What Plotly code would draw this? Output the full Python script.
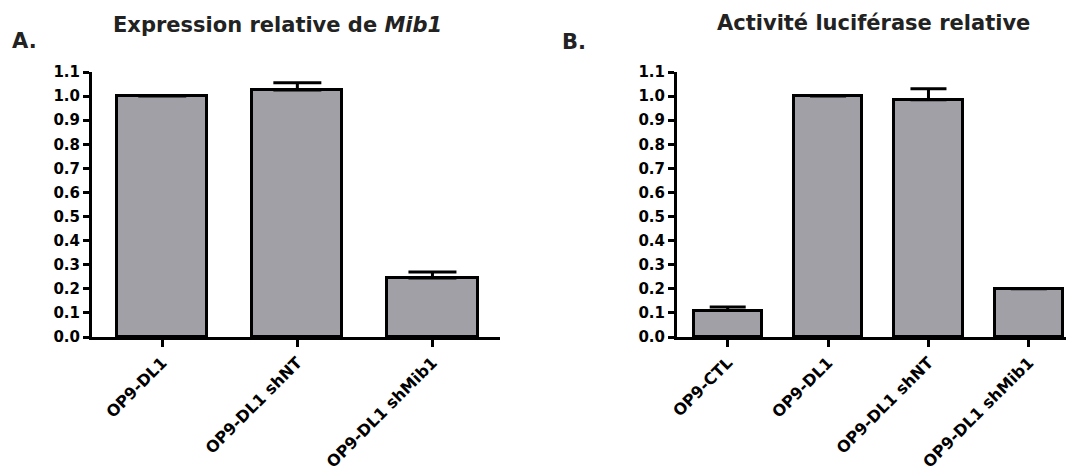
import plotly.graph_objects as go

# Panel A data
cats_a = ["OP9-DL1", "OP9-DL1 shNT", "OP9-DL1 shMib1"]
vals_a = [1.0, 1.025, 0.245]
err_a = [0.0, 0.03, 0.025]

# Panel B data
cats_b = ["OP9-CTL", "OP9-DL1", "OP9-DL1 shNT", "OP9-DL1 shMib1"]
vals_b = [0.11, 1.0, 0.985, 0.2]
err_b = [0.015, 0.0, 0.045, 0.0]

yticks = [0.0, 0.1, 0.2, 0.3, 0.4, 0.5, 0.6, 0.7, 0.8, 0.9, 1.0, 1.1]

FONT = "DejaVu Sans"
fill = "#a0a0a6"

fig = go.Figure()
fig.add_trace(go.Bar(
    x=list(range(len(cats_a))), y=vals_a, width=0.667,
    marker=dict(color=fill, line=dict(color="black", width=3)),
    error_y=dict(type="data", array=err_a, arrayminus=[0]*len(err_a), symmetric=False,
                 color="black", thickness=3, width=24, visible=True),
    xaxis="x", yaxis="y", showlegend=False))
fig.add_trace(go.Bar(
    x=list(range(len(cats_b))), y=vals_b, width=0.68,
    marker=dict(color=fill, line=dict(color="black", width=3)),
    error_y=dict(type="data", array=err_b, arrayminus=[0]*len(err_b), symmetric=False,
                 color="black", thickness=3, width=18, visible=True),
    xaxis="x2", yaxis="y2", showlegend=False))

ydom = [1 - 337/475, 1 - 72/475]
common_y = dict(range=[0, 1.1], tickvals=yticks, ticktext=[f"{v:.1f}" for v in yticks],
                showline=True, linecolor="black", linewidth=3, ticks="outside",
                ticklen=6, tickwidth=3, tickcolor="black", showgrid=False, zeroline=False,
                tickfont=dict(family=FONT, size=15, color="black", weight="bold"),
                domain=ydom, automargin=False)
common_x = dict(showline=True, linecolor="black", linewidth=3, ticks="outside",
                ticklen=7, tickwidth=3, tickcolor="black", showgrid=False, zeroline=False,
                tickangle=-45, automargin=False,
                tickfont=dict(family=FONT, size=16, color="black", weight="bold"))

fig.update_layout(
    width=1070, height=475, margin=dict(l=0, r=0, t=0, b=0, pad=0),
    paper_bgcolor="white", plot_bgcolor="white", bargap=0,
    xaxis=dict(common_x, domain=[92/1070, 500/1070], range=[-0.52, 2.5],
               tickvals=list(range(len(cats_a))), ticktext=cats_a, anchor="y"),
    yaxis=dict(common_y, anchor="x"),
    xaxis2=dict(common_x, domain=[677/1070, 1066/1070], range=[-0.505, 3.37],
                tickvals=list(range(len(cats_b))), ticktext=cats_b, anchor="y2"),
    yaxis2=dict(common_y, anchor="x2"),
)

ann_font = dict(family=FONT, size=21, color="#222222", weight="bold")
fig.add_annotation(text="Expression relative de <i>Mib1</i>", x=277/1070, y=1-25/475,
                   xref="paper", yref="paper", showarrow=False, font=ann_font,
                   xanchor="center", yanchor="middle")
fig.add_annotation(text="Activité luciférase relative", x=873/1070, y=1-23/475,
                   xref="paper", yref="paper", showarrow=False, font=ann_font,
                   xanchor="center", yanchor="middle")
fig.add_annotation(text="A.", x=10/1070, y=1-41/475, xref="paper", yref="paper",
                   showarrow=False, font=ann_font, xanchor="left", yanchor="middle")
fig.add_annotation(text="B.", x=560/1070, y=1-42/475, xref="paper", yref="paper",
                   showarrow=False, font=ann_font, xanchor="left", yanchor="middle")

fig.write_html("out.html")
